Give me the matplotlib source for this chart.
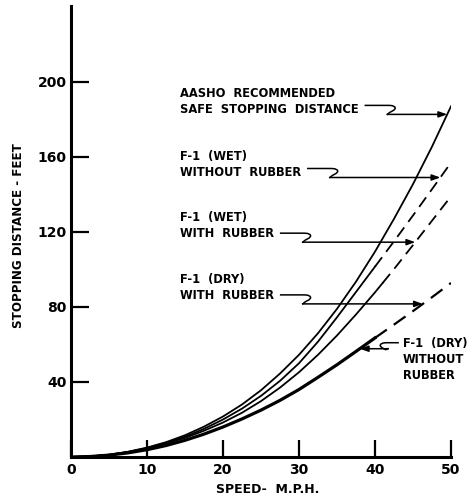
import numpy as np
import matplotlib
matplotlib.use('Agg')
import matplotlib.pyplot as plt

# speed (mph) and stopping distance (ft)
speed = [0, 2.5, 5, 7.5, 10, 12.5, 15, 17.5, 20, 22.5, 25, 27.5, 30,
         32.5, 35, 37.5, 40, 42.5, 45, 47.5, 50]
aasho = [0, 0.3, 1.2, 2.8, 5.0, 7.9, 11.6, 16.2, 21.6, 28.0, 35.6, 44.5, 54.5,
         66, 79, 93.5, 109.5, 127, 145.5, 165.5, 187]
wet_without = [0, 0.3, 1.2, 2.7, 4.8, 7.5, 10.8, 15.0, 20.0, 25.8, 32.6, 40.6, 50,
               61.5, 74.5, 88, 101.5, 115, 128.8, 142.8, 157]
wet_with = [0, 0.3, 1.1, 2.6, 4.6, 7.1, 10.2, 14.0, 18.4, 23.6, 29.8, 37.0, 45.2,
            54.5, 64.8, 76, 87.8, 100.2, 113, 126, 139]
dry = [0, 0.25, 1.0, 2.2, 3.9, 6.1, 8.9, 12.2, 16.0, 20.3, 25.0, 30.2, 36,
       42.5, 49.2, 56.3, 63.5, 70.6, 77.8, 85.2, 92.8]

# curve, speed above which it is drawn dashed (None = solid), line width
curves = [
    (aasho, None, 1.3),
    (wet_without, 40, 1.3),
    (wet_with, 41, 1.3),
    (dry, 40, 2.3),
]

x_ticks = [0, 10, 20, 30, 40, 50]
y_ticks = [40, 80, 120, 160, 200]

# label text, anchor (mph, ft), curve the arrow points at, speed of arrow tip
labels = [
    ("AASHO  RECOMMENDED\nSAFE  STOPPING  DISTANCE", (14.3, 189.6), aasho, 49.5, 1),
    ("F-1  (WET)\nWITHOUT  RUBBER", (14.3, 156.0), wet_without, 48.6, 1),
    ("F-1  (WET)\nWITH  RUBBER", (14.3, 123.5), wet_with, 45.3, 1),
    ("F-1  (DRY)\nWITH  RUBBER", (14.3, 90.4), dry, 46.3, 1),
    ("F-1  (DRY)\nWITHOUT\nRUBBER", (43.7, 52.0), dry, 38.0, -1),
]

W, H = 474, 500
fig = plt.figure(figsize=(W / 100, H / 100), dpi=100)
ax = fig.add_axes([71 / W, 1 - 457 / H, 380 / W, 451 / H])
ax.set_xlim(0, 50)
ax.set_ylim(0, 240.5)

sp = np.array(speed)
for ys, brk, lw in curves:
    ys = np.array(ys)
    if brk is None:
        ax.plot(sp, ys, color='black', lw=lw)
    else:
        # split at the break speed, sharing the point on the curve there
        yb = np.interp(brk, sp, ys)
        m1 = sp < brk
        m2 = sp > brk
        ax.plot(np.r_[sp[m1], brk], np.r_[ys[m1], yb], color='black', lw=lw)
        ax.plot(np.r_[brk, sp[m2]], np.r_[yb, ys[m2]], color='black',
                lw=min(lw, 1.6), linestyle=(0, (6.5, 3.8)), dash_capstyle='butt')

for s in ['top', 'right']:
    ax.spines[s].set_visible(False)
for s in ['left', 'bottom']:
    ax.spines[s].set_linewidth(2.2)

ax.set_xticks(x_ticks)
ax.set_yticks(y_ticks)
ax.tick_params(axis='both', direction='in', width=1.6, labelsize=10, pad=3)
ax.tick_params(axis='x', length=12.5, pad=4)
ax.tick_params(axis='y', length=13)
for lab in ax.get_xticklabels() + ax.get_yticklabels():
    lab.set_fontweight('bold')

ax.set_xlabel("SPEED-  M.P.H.", fontsize=9, fontweight='bold')
ax.xaxis.set_label_coords(0.518, -0.057)
ax.set_ylabel("STOPPING DISTANCE - FEET", fontsize=8.6, fontweight='bold')
ax.yaxis.set_label_coords(-0.12, 0.49)

texts = []
for txt, (tx, ty), ys, tip_v, d in labels:
    t = ax.text(tx, ty, txt, fontsize=8.3, fontweight='bold', va='center',
                ha='left', linespacing=1.3)
    texts.append(t)

fig.canvas.draw()
renderer = fig.canvas.get_renderer()
inv = ax.transData.inverted()


def break_arrow(x_start, tip, d, drop=9, gap=24):
    # horizontal leader with a small "break" squiggle, ending in an arrow
    xt, yl = ax.transData.transform(tip)
    yu = yl + drop
    xq = x_start + d * gap
    pts = [(x_start, yu), (xq, yu), (xq + d * 3, yu - 0.3), (xq + d * 5.5, yu - 1.5),
           (xq + d * 6, yu - 3), (xq + d * 4.5, yu - 4.8), (xq + d * 0.5, yu - 7),
           (xq - d * 2, yl)]
    dp = inv.transform(pts)
    ax.plot(dp[:, 0], dp[:, 1], color='black', lw=1.1, clip_on=False)
    ax.annotate('', xy=tip, xytext=tuple(dp[-1]),
                arrowprops=dict(arrowstyle='-|>,head_length=0.5,head_width=0.18',
                                color='black', lw=1.1, shrinkA=0, shrinkB=0))


for t, (txt, _, ys, tip_v, d) in zip(texts, labels):
    bb = t.get_window_extent(renderer)
    tip = (tip_v, np.interp(tip_v, speed, ys))
    if d > 0:
        break_arrow(bb.x1 + 7, tip, 1)
    else:
        break_arrow(bb.x0 - 5, tip, -1, drop=6, gap=12)

fig.savefig('out.png', dpi=100)
